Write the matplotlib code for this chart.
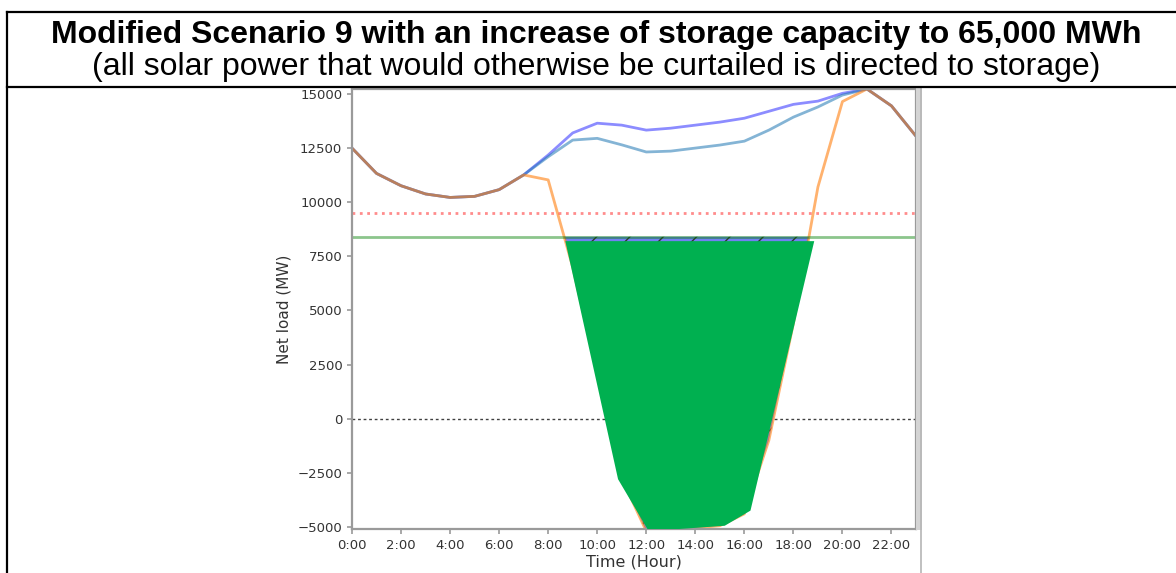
import numpy as np
import matplotlib
matplotlib.use("Agg")
import matplotlib.pyplot as plt
from matplotlib.lines import Line2D
from matplotlib.patches import Rectangle

title = "Modified Scenario 9 with an increase of storage capacity to 65,000 MWh"
subtitle = "(all solar power that would otherwise be curtailed is directed to storage)"

hours = np.arange(24)
hour_labels = ["%d:00" % h for h in range(0, 24, 2)]

# net load after solar, MW
net_load = np.array([12500, 11330, 10760, 10380, 10220, 10270, 10580, 11260,
                     11030, 7000, 2100, -2750, -5200, -5100, -5050, -4950,
                     -4400, -1000, 4400, 10700, 14650, 15230, 14450, 13050])
# net load with storage charging
load_storage = np.array([12500, 11330, 10760, 10380, 10220, 10270, 10580, 11260,
                         12180, 13200, 13650, 13560, 13330, 13420, 13560, 13700,
                         13880, 14200, 14520, 14670, 15030, 15230, 14450, 13050])
load_storage_2 = np.array([12500, 11330, 10760, 10380, 10220, 10270, 10580, 11260,
                           12100, 12870, 12950, 12650, 12320, 12360, 12500, 12640,
                           12820, 13330, 13930, 14400, 14950, 15230, 14450, 13050])

peak_limit = 9500
min_gen = 8400

# curtailed solar directed to storage
storage_hours = [8.7, 10.85, 12.1, 15.2, 16.25, 18.85]
storage_mw = [8200, -2800, -5200, -4950, -4250, 8200]

fig = plt.figure(figsize=(11.76, 5.73), dpi=100)
W, H = 1176, 573

ax = fig.add_axes([352 / W, 1 - 529 / H, (916 - 352) / W, (529 - 89) / H])

ax.plot(hours, load_storage, color="blue", alpha=0.45, lw=2)
ax.plot(hours, load_storage_2, color="tab:blue", alpha=0.55, lw=2)
ax.plot(hours, net_load, color="tab:orange", alpha=0.6, lw=2)

ax.axhline(peak_limit, color="red", alpha=0.45, ls=":", lw=2)
ax.axhline(min_gen, color="green", alpha=0.45, lw=2)
ax.axhline(0, color="black", alpha=0.75, ls=(0, (2, 2)), lw=1)

ax.fill_between(hours, net_load, min_gen, where=net_load < min_gen, interpolate=True,
                facecolor=(0.45, 0.5, 0.95), edgecolor="#333333", hatch="/", lw=0)
ax.fill(storage_hours, storage_mw, color="#00B050", lw=0, zorder=5)

ax.set_xlim(0, 23)
ax.set_ylim(-5100, 15230)
ax.set_xticks(range(0, 24, 2))
ax.set_xticklabels(hour_labels)
ax.set_yticks(range(-5000, 15001, 2500))

for s in ax.spines.values():
    s.set_color("#9a9a9a")
    s.set_linewidth(1.6)
ax.tick_params(colors="#9a9a9a", labelcolor="#333333", labelsize=9.5, length=3.5, width=1.2)
ax.set_xlabel("Time (Hour)", fontsize=11.5, color="#333333")
ax.set_ylabel("Net load (MW)", fontsize=11, color="#333333")
ax.xaxis.set_label_coords(0.5, -0.058)
ax.yaxis.set_label_coords(-0.107, 0.5)

# window edge at the right of the chart
fig.patches.append(Rectangle((916 / W, 1 - 530 / H), 6 / W, (530 - 88) / H,
                             transform=fig.transFigure, facecolor="#d4d4d4",
                             edgecolor="none"))
fig.lines.append(Line2D([921 / W, 921 / W], [0, 1 - 88 / H], transform=fig.transFigure,
                        color="#b5b5b5", lw=1.2))

# table borders
bw = 1.6
fig.lines.append(Line2D([7 / W, 1], [1 - 12 / H, 1 - 12 / H], transform=fig.transFigure,
                        color="black", lw=bw))
fig.lines.append(Line2D([7 / W, 1], [1 - 87 / H, 1 - 87 / H], transform=fig.transFigure,
                        color="black", lw=bw))
fig.lines.append(Line2D([7 / W, 7 / W], [0, 1 - 12 / H], transform=fig.transFigure,
                        color="black", lw=bw))

fig.text(596.5 / W, 1 - 43 / H, title, ha="center", va="baseline", fontsize=23,
         fontweight="bold", family="Liberation Sans")
fig.text(596 / W, 1 - 75 / H, subtitle, ha="center", va="baseline", fontsize=23,
         family="Liberation Sans")

fig.savefig("out.png", dpi=100)
